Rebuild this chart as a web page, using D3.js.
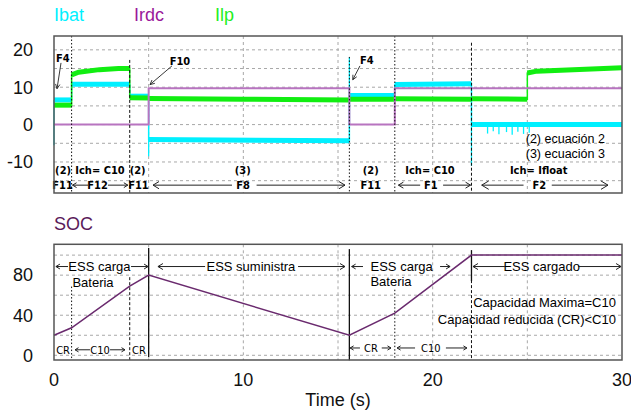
<!DOCTYPE html>
<html>
<head>
<meta charset="utf-8">
<script src="https://cdn.jsdelivr.net/npm/d3@7"></script>
<style>
body { margin: 0; background: #fff; }
svg { display: block; }
text { font-family: "Liberation Sans", Arial, sans-serif; }
.nar { font-family: "Liberation Sans Narrow", "DejaVu Sans Condensed", "Liberation Sans", sans-serif; }
</style>
</head>
<body>
<svg id="chart" width="631" height="415"></svg>
<script>
// ---- data ----
var xTicks = [0, 10, 20, 30];
var topTicks = [20, 10, 0, -10];
var socTicks = [80, 40, 0];
var legendNames = ["Ibat", "Irdc", "Ilp"];

// each piece is one level of the current, joined by thin vertical steps
var ibatPieces = [
    [[0, 6.6], [0.93, 6.6]],
    [[0.93, 10.8], [4.0, 10.8]],
    [[4.0, 7.6], [5.0, 7.6]],
    [[5.0, -4.0], [15.6, -4.3]],
    [[15.6, 7.8], [18.0, 7.8]],
    [[18.0, 10.7], [22.05, 10.9]],
    [[22.05, 0.0], [30, 0.0]]
];
// [time, from, to]
var ibatSpikes = [
    [0, 6.6, -5.5], [5.0, -4.0, -8.5], [15.6, 7.8, 18], [22.05, 0, -11],
    [22.9, 0, -2.4], [23.2, 0, -1.8], [23.5, 0, -2.6], [23.9, 0, -2.0],
    [24.2, 0, -2.7], [24.5, 0, -1.9], [24.8, 0, -2.5], [25.1, 0, -2.2]
];
var ilpPieces = [
    [[0, 5.2], [0.93, 5.2]],
    [[0.93, 13.3], [1.3, 14.0], [2.4, 14.7], [3.4, 15.0], [4.0, 15.0]],
    [[4.0, 7.2], [5.0, 7.1]],
    [[5.0, 7.0], [10, 6.8], [15.6, 6.6]],
    [[15.6, 6.8], [18.0, 6.8]],
    [[18.0, 6.9], [22.05, 6.8]],
    [[22.05, 6.9], [25.0, 6.8]],
    [[25.0, 13.8], [25.5, 14.3], [30, 15.2]]
];
var irdc = [[0, 0], [5, 0], [5, 9.7], [15.6, 9.7], [15.6, 0], [18, 0], [18, 9.7], [30, 9.7]];
var soc = [[0, 20], [0.93, 27.5], [4.0, 69], [5.0, 80], [15.6, 20], [18.0, 42], [22.05, 100], [30, 100]];

// ---- layout ----
var svg = d3.select("#chart");
var x = d3.scaleLinear().domain([0, 30]).range([54, 622]);
var y1 = d3.scaleLinear().domain([-18.3, 23.7]).range([193, 36]);
var y2 = d3.scaleLinear().domain([-4.7, 110.8]).range([360, 244.3]);

var cyan = "#00f0ff", green = "#11ee11", purple = "#b874c0";

function grid(g, y, yVals) {
    g.selectAll(".gx").data(d3.range(5, 30, 5)).join("line")
        .attr("x1", d => x(d)).attr("x2", d => x(d))
        .attr("y1", y.range()[1]).attr("y2", y.range()[0])
        .attr("stroke", "#a8a8a8").attr("stroke-dasharray", "3,3");
    g.selectAll(".gy").data(yVals).join("line")
        .attr("x1", x(0)).attr("x2", x(30))
        .attr("y1", d => y(d)).attr("y2", d => y(d))
        .attr("stroke", "#a8a8a8").attr("stroke-dasharray", "3,3");
}

function marker(g, y, t, v0, v1, kind) {
    g.append("line")
        .attr("x1", x(t)).attr("x2", x(t))
        .attr("y1", y(v0)).attr("y2", y(v1))
        .attr("stroke", "#111").attr("stroke-width", kind == "solid" ? 1.3 : 1)
        .attr("stroke-dasharray", kind == "dot" ? "1.5,2" : kind == "dash" ? "3,2" : null);
}

function arrow(g, y, t1, t2, v, side, size) {
    var a = x(t1), b = x(t2), yy = y(v);
    g.append("line").attr("x1", a).attr("x2", b).attr("y1", yy).attr("y2", yy)
        .attr("stroke", "#222").attr("stroke-width", 1);
    var tip = side == "l" ? a : b, dir = side == "l" ? 1 : -1;
    g.append("path")
        .attr("d", "M" + (tip + dir * size) + "," + (yy - size * 0.6) + "L" + tip + "," + yy + "L" + (tip + dir * size) + "," + (yy + size * 0.6))
        .attr("fill", "none").attr("stroke", "#222").attr("stroke-width", 1);
}

function label(g, y, t, v, s, cls, size, weight, anchor) {
    g.append("text").attr("class", cls)
        .attr("x", x(t)).attr("y", y(v)).attr("dy", "0.35em")
        .attr("text-anchor", anchor || "middle")
        .attr("font-size", size).attr("font-weight", weight || "normal")
        .attr("fill", "#000").text(s);
}

// ---- legend ----
var legendX = [54, 134, 215];
var legendColor = [cyan, "#9a189a", "#22ee22"];
svg.selectAll(".leg").data(legendNames).join("text")
    .attr("x", (d, i) => legendX[i]).attr("y", 21)
    .attr("font-size", 18).attr("fill", (d, i) => legendColor[i]).text(d => d);

// ---- top plot ----
var topG = svg.append("g");
topG.append("rect").attr("x", 54).attr("y", 36).attr("width", 568).attr("height", 157).attr("fill", "#fff");
grid(topG, y1, d3.range(-15, 21, 5));

var line1 = d3.line().x(d => x(d[0])).y(d => y1(d[1]));

topG.append("path").datum(ibatPieces.flat()).attr("d", line1)
    .attr("fill", "none").attr("stroke", cyan).attr("stroke-width", 1.5);
topG.selectAll(".ibs").data(ibatSpikes).join("line")
    .attr("x1", d => x(d[0])).attr("x2", d => x(d[0]))
    .attr("y1", d => y1(d[1])).attr("y2", d => y1(d[2]))
    .attr("stroke", cyan).attr("stroke-width", 1.3);
topG.selectAll(".ib").data(ibatPieces).join("path").attr("d", line1)
    .attr("fill", "none").attr("stroke", cyan).attr("stroke-width", 5);

topG.append("path").datum(ilpPieces.flat()).attr("d", line1)
    .attr("fill", "none").attr("stroke", green).attr("stroke-width", 1.5);
topG.selectAll(".il").data(ilpPieces).join("path").attr("d", line1)
    .attr("fill", "none").attr("stroke", green).attr("stroke-width", 5);

topG.append("path").datum(irdc).attr("d", line1)
    .attr("fill", "none").attr("stroke", purple).attr("stroke-width", 2);

marker(topG, y1, 0.93, 23.7, -18.3, "dot");
marker(topG, y1, 4.0, 17.3, -18.3, "dash");
marker(topG, y1, 15.6, 18.1, -18.3, "dot");
marker(topG, y1, 18.0, 23.7, -18.3, "dot");
marker(topG, y1, 22.05, 21.9, -18.3, "dash");

// small labels with pointers
label(topG, y1, 0.46, 17.9, "F4", "nar", 11, "bold");
label(topG, y1, 6.65, 17.1, "F10", "nar", 11, "bold");
label(topG, y1, 16.52, 17.3, "F4", "nar", 11, "bold");
[[0.37, 16.5, 0.16, 9.6], [6.23, 15.7, 5.07, 10.7], [16.16, 15.7, 15.78, 12]].forEach(function (p) {
    topG.append("line").attr("x1", x(p[0])).attr("y1", y1(p[1])).attr("x2", x(p[2])).attr("y2", y1(p[3]))
        .attr("stroke", "#222").attr("stroke-width", 0.9);
    var ang = Math.atan2(y1(p[3]) - y1(p[1]), x(p[2]) - x(p[0]));
    var tx = x(p[2]), ty = y1(p[3]), s = 5;
    topG.append("path")
        .attr("d", "M" + (tx - s * Math.cos(ang - 0.45)) + "," + (ty - s * Math.sin(ang - 0.45)) + "L" + tx + "," + ty +
            "L" + (tx - s * Math.cos(ang + 0.45)) + "," + (ty - s * Math.sin(ang + 0.45)))
        .attr("fill", "none").attr("stroke", "#222").attr("stroke-width", 0.9);
});

var row1 = [[0.48, "(2)"], [2.43, "Ich= C10"], [4.42, "(2)"], [9.97, "(3)"], [16.73, "(2)"], [19.86, "Ich= C10"], [25.6, "Ich= Ifloat"]];
row1.forEach(d => label(topG, y1, d[0], -12.2, d[1], "nar", 11, "bold"));
var row2 = [[0.45, "F11"], [2.3, "F12"], [4.46, "F11"], [9.98, "F8"], [16.73, "F11"], [19.9, "F1"], [25.63, "F2"]];
row2.forEach(d => label(topG, y1, d[0], -16.2, d[1], "nar", 11, "bold"));
arrow(topG, y1, 0.98, 1.8, -16.2, "l", 4);
arrow(topG, y1, 2.85, 3.9, -16.2, "r", 4);
arrow(topG, y1, 5.23, 9.4, -16.2, "l", 6);
arrow(topG, y1, 10.7, 15.37, -16.2, "r", 6);
arrow(topG, y1, 18.19, 19.34, -16.2, "l", 5);
arrow(topG, y1, 20.55, 22.0, -16.2, "r", 5);
arrow(topG, y1, 22.59, 24.8, -16.2, "l", 7);
arrow(topG, y1, 26.29, 29.26, -16.2, "r", 7);

label(topG, y1, 29.1, -3.8, "(2) ecuación 2", "", 12.5, "normal", "end");
label(topG, y1, 29.1, -7.7, "(3) ecuación 3", "", 12.5, "normal", "end");

topG.append("rect").attr("x", 54).attr("y", 36).attr("width", 568).attr("height", 157)
    .attr("fill", "none").attr("stroke", "#555").attr("stroke-width", 1.5);
topG.selectAll(".ty").data(topTicks).join("text")
    .attr("x", 33).attr("y", d => y1(d)).attr("dy", "0.35em").attr("text-anchor", "end")
    .attr("font-size", 18).attr("fill", "#111").text(d => d);

// ---- SOC plot ----
svg.append("text").attr("x", 54).attr("y", 230).attr("font-size", 18).attr("fill", "#5a1a5a").text("SOC");
var bot = svg.append("g");
grid(bot, y2, [0, 20, 40, 60, 80, 100]);

marker(bot, y2, 5.0, 107, -2, "solid");
marker(bot, y2, 15.6, 106, -5, "solid");
marker(bot, y2, 22.05, 105, 74, "solid");
marker(bot, y2, 0.93, 68.6, -4.7, "dot");
marker(bot, y2, 18.0, 65.5, -4.7, "dot");
marker(bot, y2, 4.0, 78, -4.7, "dash");
marker(bot, y2, 22.05, 100, -4.7, "dash");

var line2 = d3.line().x(d => x(d[0])).y(d => y2(d[1]));
bot.append("path").datum(soc).attr("d", line2)
    .attr("fill", "none").attr("stroke", "#6a2a6e").attr("stroke-width", 1.5);

label(bot, y2, 2.4, 88.6, "ESS carga", "", 13);
label(bot, y2, 2.06, 73, "Bateria", "", 13);
label(bot, y2, 10.4, 88.6, "ESS suministra", "", 13);
label(bot, y2, 18.36, 88.6, "ESS carga", "", 13);
label(bot, y2, 17.8, 73.5, "Bateria", "", 13);
label(bot, y2, 25.76, 88.6, "ESS cargado", "", 13);
arrow(bot, y2, 0.1, 0.74, 88.6, "l", 4);
arrow(bot, y2, 4.07, 4.97, 88.6, "r", 4);
arrow(bot, y2, 5.49, 7.98, 88.6, "l", 5);
arrow(bot, y2, 12.89, 15.37, 88.6, "r", 5);
arrow(bot, y2, 15.72, 16.32, 88.6, "l", 4);
arrow(bot, y2, 20.39, 20.92, 88.6, "r", 4);
arrow(bot, y2, 22.13, 23.82, 88.6, "l", 5);
arrow(bot, y2, 27.68, 29.95, 88.6, "r", 5);

label(bot, y2, 0.48, 5.5, "CR", "nar", 11);
label(bot, y2, 2.43, 5.5, "C10", "nar", 11);
label(bot, y2, 4.49, 5.5, "CR", "nar", 11);
label(bot, y2, 16.74, 7.3, "CR", "nar", 11);
label(bot, y2, 19.9, 7.3, "C10", "nar", 11);
arrow(bot, y2, 1.11, 1.9, 5.5, "l", 3.5);
arrow(bot, y2, 2.96, 3.75, 5.5, "r", 3.5);
arrow(bot, y2, 15.64, 16.16, 7.3, "l", 3.5);
arrow(bot, y2, 17.31, 17.8, 7.3, "r", 3.5);
arrow(bot, y2, 18.12, 19.07, 7.3, "l", 3.5);
arrow(bot, y2, 20.7, 21.81, 7.3, "r", 3.5);

label(bot, y2, 29.68, 53, "Capacidad Maxima=C10", "", 13, "normal", "end");
label(bot, y2, 29.68, 35.3, "Capacidad reducida (CR)<C10", "", 13, "normal", "end");

bot.append("rect").attr("x", 54).attr("y", 244.3).attr("width", 568).attr("height", 115.7)
    .attr("fill", "none").attr("stroke", "#555").attr("stroke-width", 1.5);
bot.selectAll(".sy").data(socTicks).join("text")
    .attr("x", 33).attr("y", d => y2(d)).attr("dy", "0.35em").attr("text-anchor", "end")
    .attr("font-size", 18).attr("fill", "#111").text(d => d);
bot.selectAll(".sx").data(xTicks).join("text")
    .attr("x", d => x(d)).attr("y", 380).attr("dy", "0.35em").attr("text-anchor", "middle")
    .attr("font-size", 18).attr("fill", "#111").text(d => d);
svg.append("text").attr("x", x(15)).attr("y", 400).attr("dy", "0.35em").attr("text-anchor", "middle")
    .attr("font-size", 18).attr("fill", "#111").text("Time (s)");
</script>
</body>
</html>
